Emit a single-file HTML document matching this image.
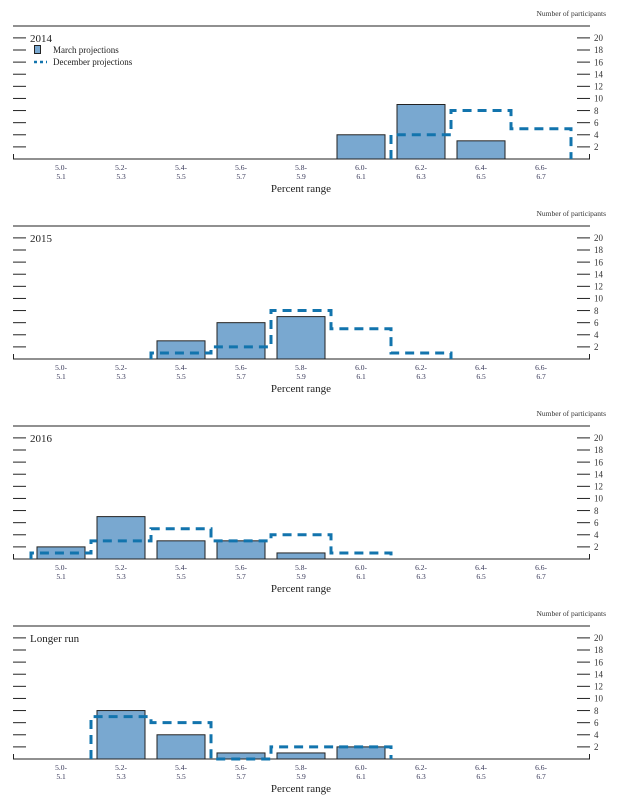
<!DOCTYPE html>
<html><head><meta charset="utf-8"><style>
body{margin:0;background:#fff}
svg text{font-family:"Liberation Serif",serif}
</style></head><body>
<svg id="chart" width="619" height="799" viewBox="0 0 619 799" xmlns="http://www.w3.org/2000/svg"></svg>
<script>
const categoriesTop = ["5.0-","5.2-","5.4-","5.6-","5.8-","6.0-","6.2-","6.4-","6.6-"];
const categoriesBottom = ["5.1","5.3","5.5","5.7","5.9","6.1","6.3","6.5","6.7"];
const panelTitles = ["2014","2015","2016","Longer run"];
const marchValues = [
  [0,0,0,0,0,4,9,3,0],
  [0,0,3,6,7,0,0,0,0],
  [2,7,3,3,1,0,0,0,0],
  [0,8,4,1,1,2,0,0,0]
];
const decemberValues = [
  [0,0,0,0,0,0,4,8,5],
  [0,0,1,2,8,5,1,0,0],
  [1,3,5,3,4,1,0,0,0],
  [0,7,6,0,2,2,0,0,0]
];
const yTicks = [2,4,6,8,10,12,14,16,18,20];

const svg = document.getElementById('chart');
const NS = 'http://www.w3.org/2000/svg';
function mk(tag, attrs, parent){const e=document.createElementNS(NS,tag);for(const k in attrs)e.setAttribute(k,attrs[k]);(parent||svg).appendChild(e);return e;}
const xC = i => 61 + i*60;
const unit = (147-38)/18;

panelTitles.forEach((title,p)=>{
  const o = p*200;
  const base = 159+o;
  const y = v => base - v*unit;
  const g = mk('g',{});
  
  
  let t = mk('text',{x:606,y:16+o,'font-size':7.5,fill:'#333','text-anchor':'end'},g);
  t.textContent='Number of participants';
  
  
  mk('line',{x1:13,x2:590,y1:26+o,y2:26+o,stroke:'#222','stroke-width':1},g);
  const bl = mk('line',{x1:13,x2:590,y1:base,y2:base,stroke:'#222','stroke-width':1},g);
  
  
  mk('line',{x1:13.5,x2:13.5,y1:base-5,y2:base,stroke:'#222','stroke-width':1},g);
  mk('line',{x1:589.5,x2:589.5,y1:base-5,y2:base,stroke:'#222','stroke-width':1},g);
  yTicks.forEach(v=>{
    mk('line',{x1:13,x2:26,y1:y(v),y2:y(v),stroke:'#222','stroke-width':1},g);
    mk('line',{x1:577,x2:590,y1:y(v),y2:y(v),stroke:'#222','stroke-width':1},g);
    const tl = mk('text',{x:594,y:y(v)+3.2,'font-size':9,fill:'#333'},g);
    tl.textContent=v;
    
    
  });
  t = mk('text',{x:30,y:42+o,'font-size':11,fill:'#222'},g);
  t.textContent=title;
  
  
  categoriesTop.forEach((c,i)=>{
    const a = mk('text',{x:xC(i),y:170+o,'font-size':7.5,fill:'#335','text-anchor':'middle'},g);
    a.textContent=c;
    
    
    const b = mk('text',{x:xC(i),y:179+o,'font-size':7.5,fill:'#335','text-anchor':'middle'},g);
    b.textContent=categoriesBottom[i];
    
    
  });
  t = mk('text',{x:301,y:192+o,'font-size':11,fill:'#222','text-anchor':'middle'},g);
  t.textContent='Percent range';
  
  
  marchValues[p].forEach((v,i)=>{
    if(!v) return;
    const r = mk('rect',{x:xC(i)-24,y:y(v),width:48,height:v*unit,fill:'#79a8d0',stroke:'#222','stroke-width':1},g);
    
    
  });
  const dv = decemberValues[p];
  let first=-1,last=-1;
  dv.forEach((v,i)=>{if(v){if(first<0)first=i;last=i;}});
  let d = `M${xC(first)-30},${base}`;
  for(let i=first;i<=last;i++){d+=` L${xC(i)-30},${y(dv[i])} L${xC(i)+30},${y(dv[i])}`;}
  d+=` L${xC(last)+30},${base}`;
  const path = mk('path',{d:d,fill:'none',stroke:'#1274ad','stroke-width':3,'stroke-dasharray':'9,6'},g);
  
  
  if(p===0){
    const lg = mk('g',{},g);
    
    
    mk('rect',{x:34.5,y:45.5,width:6,height:8,fill:'#79a8d0',stroke:'#222','stroke-width':1},lg);
    let lt = mk('text',{x:53,y:53,'font-size':9,fill:'#222'},lg);
    lt.textContent='March projections';
    
    
    mk('line',{x1:34,x2:47,y1:62,y2:62,stroke:'#1274ad','stroke-width':2.5,'stroke-dasharray':'3,3'},lg);
    lt = mk('text',{x:53,y:65,'font-size':9,fill:'#222'},lg);
    lt.textContent='December projections';
    
    
  }
});
</script>
</body></html>
